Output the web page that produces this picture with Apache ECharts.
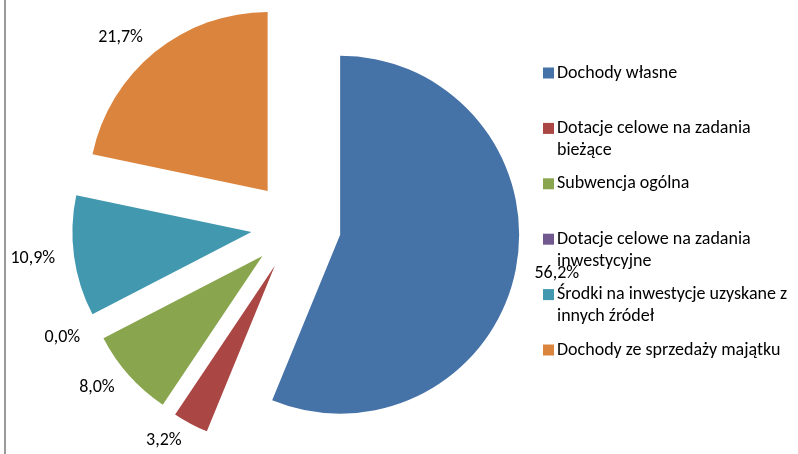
<!DOCTYPE html>
<html>
<head>
<meta charset="utf-8">
<script src="https://cdn.jsdelivr.net/npm/echarts@6/dist/echarts.min.js"></script>
<style>
html,body{margin:0;padding:0;background:#fff;}
#chart{width:798px;height:454px;}
</style>
</head>
<body>
<div id="chart"></div>
<script>
const categories = [
  'Dochody własne',
  'Dotacje celowe na zadania bieżące',
  'Subwencja ogólna',
  'Dotacje celowe na zadania inwestycyjne',
  'Środki na inwestycje uzyskane z innych źródeł',
  'Dochody ze sprzedaży majątku'
];
const values = [56.2, 3.2, 8.0, 0.0, 10.9, 21.7];
const colors = ['#4572A7', '#AA4643', '#89A54E', '#71588F', '#4198AF', '#DB843D'];

const FONT = 'Carlito, Lato, sans-serif';
const FS = 18;

// word-wrap legend names to the width of the widest single-line entry
const ctx = document.createElement('canvas').getContext('2d');
ctx.font = FS + 'px ' + FONT;
const maxW = ctx.measureText('Środki na inwestycje uzyskane z').width + 2;
function wrap(name) {
  const words = name.split(' ');
  const lines = [];
  let cur = '';
  words.forEach(w => {
    const t = cur ? cur + ' ' + w : w;
    if (ctx.measureText(t).width > maxW && cur) { lines.push(cur); cur = w; }
    else cur = t;
  });
  lines.push(cur);
  return lines;
}

const rich = { t: { fontFamily: FONT, fontSize: FS, color: '#000', lineHeight: 22, padding: [0, 0, 0, 3] },
               p: { width: 11, height: 11 } };
colors.forEach((c, i) => { rich['s' + i] = { width: 11, height: 11, backgroundColor: c }; });

const chart = echarts.init(document.getElementById('chart'), null, { renderer: 'canvas' });
chart.setOption({
  animation: false,
  color: colors,
  graphic: [{
    type: 'line', shape: { x1: 5, y1: 0, x2: 5, y2: 454 },
    style: { stroke: '#9a9a9a', lineWidth: 2 }, silent: true
  }],
  legend: {
    orient: 'vertical',
    left: 533,
    top: 57,
    itemGap: 11.4,
    itemWidth: 0,
    itemHeight: 0,
    selectedMode: false,
    data: categories,
    formatter: function (name) {
      const i = categories.indexOf(name);
      const l = wrap(name);
      return '{s' + i + '|}{t|' + l[0] + '}\n{p|}{t|' + (l[1] || ' ') + '}';
    },
    textStyle: { fontFamily: FONT, fontSize: FS, lineHeight: 22, rich: rich }
  },
  series: [{
    type: 'pie',
    center: [296, 226],
    radius: 179,
    startAngle: 90,
    clockwise: true,
    selectedMode: 'multiple',
    selectedOffset: 45,
    avoidLabelOverlap: false,
    emphasis: { disabled: true },
    itemStyle: { borderWidth: 0 },
    label: {
      show: true,
      position: 'outside',
      distanceToLabelLine: 0,
      fontFamily: FONT,
      fontSize: FS,
      color: '#000',
      formatter: p => p.value.toFixed(1).replace('.', ',') + '%'
    },
    labelLine: { show: false, length: 19, length2: 0 },
    data: categories.map((n, i) => ({ name: n, value: values[i], selected: true }))
  }]
});
</script>
</body>
</html>
